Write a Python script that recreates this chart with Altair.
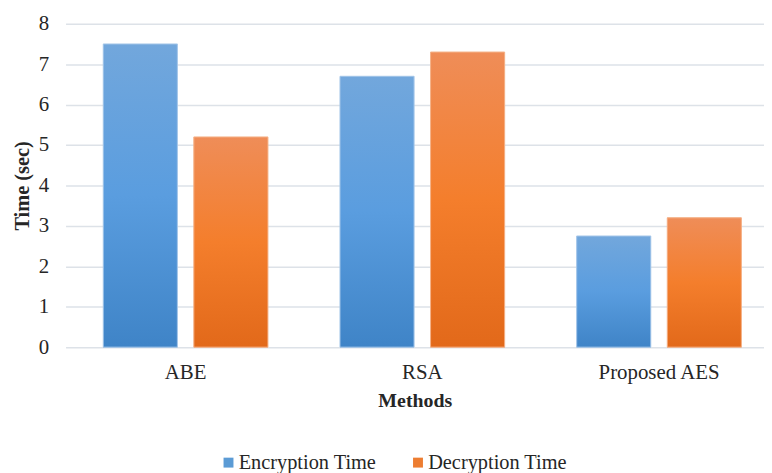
import altair as alt
import pandas as pd

methods = ["ABE", "RSA", "Proposed AES"]
series = ["Encryption Time", "Decryption Time"]
encryption = [7.5, 6.7, 2.75]
decryption = [5.2, 7.3, 3.2]
y_ticks = [0, 1, 2, 3, 4, 5, 6, 7, 8]
legend_colors = ["#5b9bd5", "#ed7d31"]

rows = []
for m, e, d in zip(methods, encryption, decryption):
    rows.append({"Method": m, "Series": series[0], "Time": e})
    rows.append({"Method": m, "Series": series[1], "Time": d})
df = pd.DataFrame(rows)

FONT = "Liberation Serif"
TXT = "#262626"

x_enc = alt.X(
    "Method:N",
    sort=methods,
    scale=alt.Scale(paddingInner=0.3043, paddingOuter=0.1275, align=0.625),
    axis=alt.Axis(
        title="Methods", labelAngle=0, domain=False, ticks=False,
        labelFont=FONT, labelFontSize=21, labelColor=TXT, labelPadding=15,
        titleFont=FONT, titleFontSize=20, titleFontWeight="bold", titleColor=TXT,
        titlePadding=8,
    ),
)
xoff = alt.XOffset("Series:N", sort=series,
                   scale=alt.Scale(domain=series, paddingInner=0.182, paddingOuter=0))
y_enc = alt.Y(
    "Time:Q",
    scale=alt.Scale(domain=[0, 8]),
    axis=alt.Axis(
        title="Time (sec)", values=y_ticks, grid=True, gridColor="#dde2e8", gridWidth=1.5,
        domain=False, ticks=False, labelFont=FONT, labelFontSize=21, labelColor=TXT,
        labelPadding=17, titleFont=FONT, titleFontSize=20.5, titleFontWeight="bold",
        titleColor=TXT, titlePadding=6,
    ),
)

base = alt.Chart(df)

legend_layer = base.mark_bar().encode(
    x=x_enc, xOffset=xoff, y=y_enc,
    color=alt.Color(
        "Series:N",
        scale=alt.Scale(domain=series, range=legend_colors),
        legend=alt.Legend(
            title=None, orient="none", legendX=154, legendY=432, direction="horizontal",
            columns=2, symbolType="square", symbolSize=100, symbolStrokeWidth=0,
            labelFont=FONT, labelFontSize=20.5, labelColor=TXT, labelOffset=0,
            columnPadding=31,
        ),
    ),
)

blue_grad = alt.LinearGradient(
    gradient="linear", x1=0, y1=0, x2=0, y2=1,
    stops=[alt.GradientStop(color="#72a7dc", offset=0),
           alt.GradientStop(color="#5a9ddf", offset=0.5),
           alt.GradientStop(color="#3f84c7", offset=1)],
)
orange_grad = alt.LinearGradient(
    gradient="linear", x1=0, y1=0, x2=0, y2=1,
    stops=[alt.GradientStop(color="#ef8d58", offset=0),
           alt.GradientStop(color="#f47e2c", offset=0.5),
           alt.GradientStop(color="#e2691a", offset=1)],
)

enc_layer = base.transform_filter(alt.datum.Series == series[0]).mark_bar(
    fill=blue_grad, stroke="#a8c8ea", strokeWidth=1
).encode(x=x_enc, xOffset=xoff, y=y_enc)

dec_layer = base.transform_filter(alt.datum.Series == series[1]).mark_bar(
    fill=orange_grad, stroke="#f5b48c", strokeWidth=1
).encode(x=x_enc, xOffset=xoff, y=y_enc)

chart = alt.layer(legend_layer, enc_layer, dec_layer).properties(
    width=704, height=326,
    autosize=alt.AutoSizeParams(type="none"),
    padding={"left": 58, "top": 14, "right": 0, "bottom": 126},
).configure_view(stroke=None)

chart.save("out.html", embed_options={"renderer": "svg", "actions": False})
